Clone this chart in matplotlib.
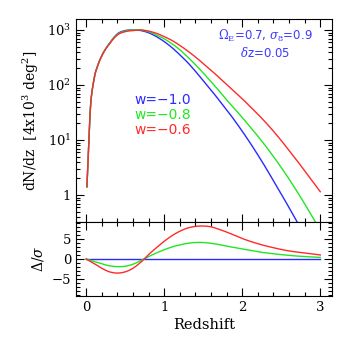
import numpy as np
import matplotlib
matplotlib.use("Agg")
import matplotlib.pyplot as plt
from matplotlib.ticker import MultipleLocator, LogLocator, FuncFormatter, NullFormatter

plt.rcParams['font.family'] = ['DejaVu Serif']
plt.rcParams['mathtext.fontset'] = 'dejavuserif'

# ---- data ----
z_top = [0.01, 0.05, 0.1, 0.15, 0.2, 0.3, 0.4, 0.5, 0.6, 0.7, 0.8, 0.9, 1.0, 1.1, 1.2, 1.3,
         1.4, 1.5, 1.6, 1.7, 1.8, 1.9, 2.0, 2.1, 2.2, 2.3, 2.4, 2.5, 2.6, 2.7, 2.8, 2.9, 3.0]
log_dndz_w10 = [0.15, 1.48, 2.10, 2.36, 2.53, 2.76, 2.93, 2.99, 3.0, 2.99, 2.95, 2.88, 2.79, 2.68,
                2.55, 2.41, 2.25, 2.08, 1.91, 1.73, 1.55, 1.36, 1.16, 0.95, 0.73, 0.50, 0.26,
                0.02, -0.23, -0.48, -0.73, -0.98, -1.23]
log_dndz_w08 = [0.15, 1.48, 2.10, 2.36, 2.53, 2.76, 2.92, 2.98, 3.0, 3.0, 2.97, 2.91, 2.84, 2.75,
                2.64, 2.51, 2.37, 2.22, 2.06, 1.90, 1.73, 1.57, 1.41, 1.24, 1.07, 0.89, 0.70,
                0.50, 0.29, 0.07, -0.16, -0.40, -0.64]
log_dndz_w06 = [0.15, 1.48, 2.10, 2.36, 2.53, 2.75, 2.91, 2.97, 2.99, 3.0, 2.98, 2.94, 2.88, 2.81,
                2.72, 2.62, 2.51, 2.39, 2.27, 2.14, 2.01, 1.88, 1.75, 1.61, 1.47, 1.32, 1.16,
                0.99, 0.81, 0.63, 0.44, 0.25, 0.06]

z_bot = [0.0, 0.1, 0.2, 0.3, 0.4, 0.5, 0.6, 0.7, 0.8, 0.9, 1.0, 1.1, 1.2, 1.3, 1.4, 1.5, 1.6,
         1.7, 1.8, 1.9, 2.0, 2.2, 2.4, 2.6, 2.8, 3.0]
delta_w10 = [0.0] * len(z_bot)
delta_w08 = [0.0, -0.6, -1.2, -1.7, -1.9, -1.8, -1.3, -0.4, 0.6, 1.5, 2.3, 3.0, 3.5, 3.9, 4.1,
             4.1, 3.9, 3.6, 3.2, 2.85, 2.5, 1.8, 1.3, 0.9, 0.6, 0.4]
delta_w06 = [0.0, -1.1, -2.3, -3.2, -3.5, -3.2, -2.3, -0.8, 1.1, 2.8, 4.4, 5.8, 6.9, 7.7, 8.1,
             8.2, 8.0, 7.4, 6.7, 5.9, 5.1, 3.8, 2.8, 2.0, 1.5, 1.0]

labels = ["w=\u22121.0", "w=\u22120.8", "w=\u22120.6"]
colors = ["#2a2aff", "#22e622", "#ff2a2a"]


def smooth(x, y, n=12):
    """Cubic Hermite drawing between the read points (for a smooth line)."""
    x = np.asarray(x, float)
    y = np.asarray(y, float)
    m = np.gradient(y, x)
    xs, ys = [], []
    for i in range(len(x) - 1):
        h = x[i + 1] - x[i]
        t = np.linspace(0, 1, n, endpoint=False)
        h00 = 2 * t**3 - 3 * t**2 + 1
        h10 = t**3 - 2 * t**2 + t
        h01 = -2 * t**3 + 3 * t**2
        h11 = t**3 - t**2
        xs.append(x[i] + t * h)
        ys.append(h00 * y[i] + h10 * h * m[i] + h01 * y[i + 1] + h11 * h * m[i + 1])
    xs.append([x[-1]])
    ys.append([y[-1]])
    return np.concatenate(xs), np.concatenate(ys)


fig = plt.figure(figsize=(3.51, 3.50), dpi=100)
L, R = 76 / 351, 332 / 351
ax1 = fig.add_axes([L, 1 - 222 / 350, R - L, (222 - 19) / 350])
ax2 = fig.add_axes([L, 1 - 296 / 350, R - L, (296 - 222) / 350])

for lv, c in zip([log_dndz_w10, log_dndz_w08, log_dndz_w06], colors):
    xs, ys = smooth(z_top, lv)
    ax1.plot(xs, 10 ** ys, color=c, lw=1.0)
for d, c in zip([delta_w10, delta_w08, delta_w06], colors):
    xs, ys = smooth(z_bot, d)
    ax2.plot(xs, ys, color=c, lw=1.0)

xlim = (-0.13, 3.15)
ax1.set_yscale('log')
ax1.set_xlim(*xlim)
ax1.set_ylim(10 ** -0.49, 10 ** 3.2)
ax2.set_xlim(*xlim)
ax2.set_ylim(-9.2, 9.2)


def logfmt(v, pos):
    e = int(round(np.log10(v)))
    if e == 0:
        return "1"
    return r"$10^{%d}$" % e


ax1.yaxis.set_major_locator(LogLocator(base=10, numticks=10))
ax1.yaxis.set_minor_locator(LogLocator(base=10, subs=np.arange(2, 10), numticks=10))
ax1.yaxis.set_major_formatter(FuncFormatter(logfmt))
ax1.yaxis.set_minor_formatter(NullFormatter())

for ax in (ax1, ax2):
    ax.xaxis.set_major_locator(MultipleLocator(1))
    ax.xaxis.set_minor_locator(MultipleLocator(0.2))
    ax.tick_params(which='both', direction='in', top=True, right=True, labelsize=9.5, width=0.8)
    ax.tick_params(which='major', length=6)
    ax.tick_params(which='minor', length=3)
    for s in ax.spines.values():
        s.set_linewidth(0.8)
ax1.tick_params(labelbottom=False)
ax2.yaxis.set_major_locator(MultipleLocator(5))
ax2.yaxis.set_minor_locator(MultipleLocator(1))

ax1.set_ylabel(r"dN/dz  [4x10$^3$ deg$^2$]", fontsize=10, labelpad=4)
ax2.set_ylabel(r"$\Delta/\sigma$", fontsize=10, labelpad=4)
ax2.set_xlabel("Redshift", fontsize=10.5, labelpad=3)

# legend text
ys_lab = [100, 115, 130]
for lab, c, y in zip(labels, colors, ys_lab):
    fig.text(134 / 351, 1 - y / 350, lab, color=c, fontsize=10, ha='left', va='center',
             family=['DejaVu Sans'])

fig.text(265 / 351, 1 - 36 / 350, r"$\Omega_{\rm E}$=0.7, $\sigma_{\rm 8}$=0.9", color="#3a3aff",
         fontsize=8.5, ha='center', va='center', family=['DejaVu Sans'])
fig.text(265 / 351, 1 - 53 / 350, r"$\delta$z=0.05", color="#3a3aff",
         fontsize=8.5, ha='center', va='center', family=['DejaVu Sans'])

fig.savefig("out.png", dpi=100)
